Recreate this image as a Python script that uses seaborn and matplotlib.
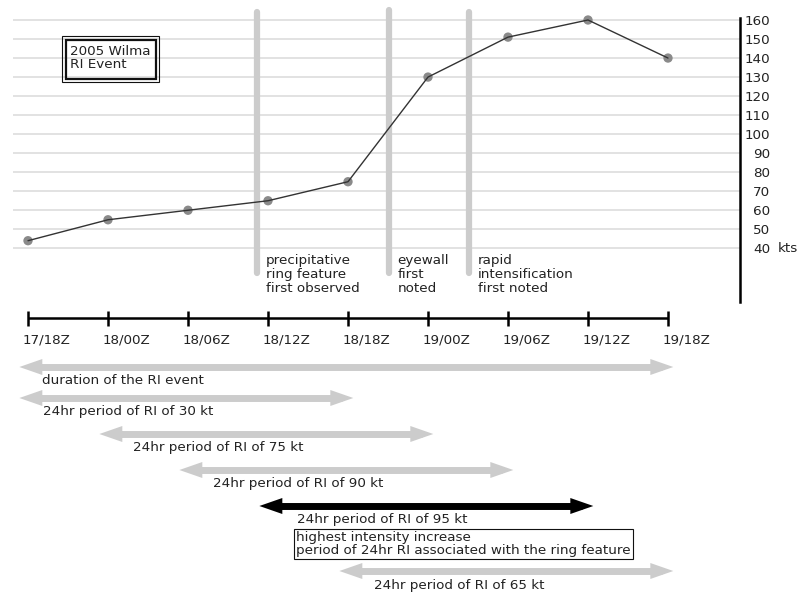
import matplotlib
matplotlib.use("Agg")
import matplotlib.pyplot as plt
import matplotlib.patches as mpatches
import seaborn as sns
import pandas as pd

# synoptic times (hours after 17/18Z) and Wilma intensity
time_labels = ["17/18Z", "18/00Z", "18/06Z", "18/12Z", "18/18Z",
               "19/00Z", "19/06Z", "19/12Z", "19/18Z"]
hours = [0, 6, 12, 18, 24, 30, 36, 42, 48]
intensity_kt = [44, 55, 60, 65, 75, 130, 151, 160, 140]
kt_ticks = [40, 50, 60, 70, 80, 90, 100, 110, 120, 130, 140, 150, 160]

# observed features (hours after 17/18Z)
event_hours = [17.2, 27.1, 33.1]
event_text = ["precipitative\nring feature\nfirst observed",
              "eyewall\nfirst\nnoted",
              "rapid\nintensification\nfirst noted"]

# RI periods
period_labels = ["duration of the RI event",
                 "24hr period of RI of 30 kt",
                 "24hr period of RI of 75 kt",
                 "24hr period of RI of 90 kt",
                 "24hr period of RI of 95 kt",
                 "24hr period of RI of 65 kt"]
period_start = [0, 0, 6, 12, 18, 24]
period_end = [48, 24, 30, 36, 42, 48]
highlight = 4

df = pd.DataFrame({"hour": hours, "kt": intensity_kt})

# ---- layout (pixels) ----
W, H = 798, 593
X0 = 28
PX_HR = 80 / 6
KT_PX = 1.903
AX_RIGHT = 740
TOP_BOTTOM = 302
row_y = [367, 398, 434, 470, 506, 571]
label_dx = [23, 24, 34, 34, 38, 35]
TXT = "#222222"
LIGHT = "#cccccc"
FS = 9.7


def px2hr(px):
    return (px - X0) / PX_HR


sns.set_style("white")
plt.rcParams["font.family"] = ["DejaVu Sans"]
plt.rcParams["font.size"] = FS

fig = plt.figure(figsize=(W / 100, H / 100), dpi=100)
ax = fig.add_axes([0, 1 - TOP_BOTTOM / H, AX_RIGHT / W, TOP_BOTTOM / H])
axb = fig.add_axes([0, 0, AX_RIGHT / W, (H - TOP_BOTTOM) / H])
for a in (ax, axb):
    a.set_xlim(px2hr(0), px2hr(AX_RIGHT))
    a.set_facecolor("none")

# ---- intensity chart ----
ylo = 40 - (TOP_BOTTOM - 248.3) / KT_PX
ax.set_ylim(ylo, 160 + 20 / KT_PX)
ax.hlines(kt_ticks, px2hr(13), px2hr(AX_RIGHT), color="#dddddd", lw=1.2, zorder=1)

for i, (h, t) in enumerate(zip(event_hours, event_text)):
    top = 10 if i == 1 else 12
    ax.axvline(h, ymin=1 - 273 / TOP_BOTTOM, ymax=1 - top / TOP_BOTTOM,
               color=LIGHT, lw=4.5, solid_capstyle="round", zorder=2)
    ax.annotate(t, xy=(h, 1 - 254 / TOP_BOTTOM), xycoords=("data", "axes fraction"),
                xytext=(6, 0), textcoords="offset points", ha="left", va="top",
                color=TXT, linespacing=1.08)

sns.scatterplot(data=df, x="hour", y="kt", ax=ax, s=45, color="#8a8a8a",
                edgecolor="none", zorder=3)
sns.lineplot(data=df, x="hour", y="kt", ax=ax, color="#333333", lw=1, zorder=4)

sns.despine(ax=ax, left=True, bottom=True, top=True, right=False)
ax.spines["right"].set_bounds(ylo, 160 + 2 / KT_PX)
ax.spines["right"].set_linewidth(1.8)
ax.spines["right"].set_color("black")
ax.set_xticks([])
ax.set_xlabel("")
ax.set_ylabel("")
ax.yaxis.tick_right()
ax.set_yticks(kt_ticks)
ax.tick_params(axis="y", length=0, pad=21.6, labelsize=FS, colors=TXT)
for lbl in ax.get_yticklabels():
    lbl.set_horizontalalignment("right")
fig.text(778 / W, 1 - 248 / H, "kts", ha="left", va="center", color=TXT)

# title box with double border
fig.add_artist(mpatches.Rectangle((62 / W, 1 - 82 / H), 97 / W, 46 / H,
                                  transform=fig.transFigure, fill=False,
                                  ec="#111111", lw=0.8))
fig.add_artist(mpatches.Rectangle((65.5 / W, 1 - 78.5 / H), 90 / W, 39 / H,
                                  transform=fig.transFigure, fill=False,
                                  ec="#111111", lw=1.6))
fig.text(70 / W, 1 - 45 / H, "2005 Wilma\nRI Event", ha="left", va="top",
         color=TXT, linespacing=1.05)

# ---- timeline ----
axb.set_ylim(H, TOP_BOTTOM)
axb.axis("off")
axb.hlines(318, hours[0], hours[-1], color="black", lw=1.8)
axb.vlines(hours, 311, 326, color="black", lw=1.8)
for h, lab in zip(hours, time_labels):
    axb.text(h - 0.4, 340, lab, ha="left", va="center", color=TXT)

# RI period arrows: one shaft plus a head at each end
head_len = 23 / PX_HR
for i, (lab, s, e) in enumerate(zip(period_labels, period_start, period_end)):
    left = s - 0.65
    right = e + 0.4
    col = "black" if i == highlight else LIGHT
    axb.hlines(row_y[i], left + head_len * 0.5, right - head_len * 0.5,
               color=col, lw=5.0, capstyle="butt")
    axb.arrow(right - head_len, row_y[i], head_len, 0, width=7, head_width=16,
              head_length=head_len, length_includes_head=True, fc=col, ec="none", lw=0)
    axb.arrow(left + head_len, row_y[i], -head_len, 0, width=7, head_width=16,
              head_length=head_len, length_includes_head=True, fc=col, ec="none", lw=0)
    axb.text(left + label_dx[i] / PX_HR, row_y[i] + 14, lab, ha="left",
             va="center", color=TXT)
    if i == highlight:
        axb.text(left + (label_dx[i] - 1) / PX_HR, 544,
                 "highest intensity increase\nperiod of 24hr RI associated with the ring feature",
                 ha="left", va="center", color=TXT, linespacing=1.0,
                 bbox=dict(boxstyle="square,pad=0.15", fc="white", ec="#111111", lw=0.8))

fig.savefig("out.png", dpi=100)
